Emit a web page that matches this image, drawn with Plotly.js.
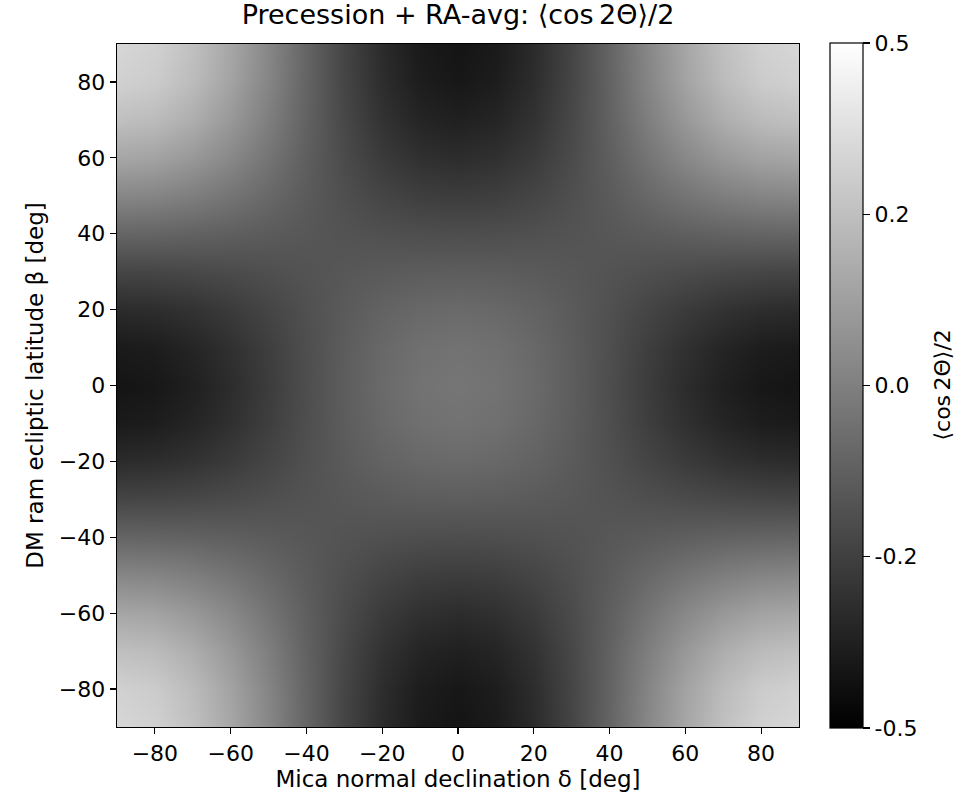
<!DOCTYPE html>
<html>
<head>
<meta charset="utf-8">
<script src="https://cdn.plot.ly/plotly-3.0.1.min.js"></script>
<style>html,body{margin:0;padding:0;background:#fff}#chart{width:964px;height:797px}</style>
</head>
<body>
<div id="chart"></div>
<script>
// Mica normal declination δ (deg)
const declination = [-90,-80,-70,-60,-50,-40,-30,-20,-10,0,10,20,30,40,50,60,70,80,90];
// DM ram ecliptic latitude β (deg)
const latitude = [-90,-80,-70,-60,-50,-40,-30,-20,-10,0,10,20,30,40,50,60,70,80,90];
// <cos 2Θ>/2, rows follow latitude, columns follow declination
const halfCos2Theta = [
  [0.342,0.319,0.253,0.151,0.027,-0.106,-0.230,-0.332,-0.398,-0.421,-0.398,-0.332,-0.230,-0.106,0.027,0.151,0.253,0.319,0.342],
  [0.319,0.297,0.234,0.137,0.018,-0.109,-0.227,-0.324,-0.387,-0.409,-0.387,-0.324,-0.227,-0.109,0.018,0.137,0.234,0.297,0.319],
  [0.253,0.234,0.179,0.095,-0.007,-0.116,-0.219,-0.303,-0.357,-0.376,-0.357,-0.303,-0.219,-0.116,-0.007,0.095,0.179,0.234,0.253],
  [0.151,0.137,0.095,0.032,-0.046,-0.129,-0.206,-0.270,-0.311,-0.326,-0.311,-0.270,-0.206,-0.129,-0.046,0.032,0.095,0.137,0.151],
  [0.027,0.018,-0.007,-0.046,-0.093,-0.144,-0.191,-0.230,-0.255,-0.263,-0.255,-0.230,-0.191,-0.144,-0.093,-0.046,-0.007,0.018,0.027],
  [-0.106,-0.109,-0.117,-0.129,-0.144,-0.159,-0.174,-0.186,-0.194,-0.197,-0.194,-0.186,-0.174,-0.159,-0.144,-0.129,-0.117,-0.109,-0.106],
  [-0.230,-0.227,-0.219,-0.206,-0.191,-0.174,-0.159,-0.146,-0.138,-0.135,-0.138,-0.146,-0.159,-0.174,-0.191,-0.206,-0.219,-0.227,-0.230],
  [-0.332,-0.324,-0.303,-0.270,-0.230,-0.187,-0.146,-0.113,-0.092,-0.084,-0.092,-0.113,-0.146,-0.187,-0.230,-0.270,-0.303,-0.324,-0.332],
  [-0.398,-0.388,-0.357,-0.311,-0.255,-0.194,-0.138,-0.092,-0.062,-0.051,-0.062,-0.092,-0.138,-0.194,-0.255,-0.311,-0.357,-0.388,-0.398],
  [-0.421,-0.409,-0.376,-0.326,-0.263,-0.197,-0.135,-0.084,-0.051,-0.040,-0.051,-0.084,-0.135,-0.197,-0.263,-0.326,-0.376,-0.409,-0.421],
  [-0.398,-0.388,-0.357,-0.311,-0.255,-0.194,-0.138,-0.092,-0.062,-0.051,-0.062,-0.092,-0.138,-0.194,-0.255,-0.311,-0.357,-0.388,-0.398],
  [-0.332,-0.324,-0.303,-0.270,-0.230,-0.187,-0.146,-0.113,-0.092,-0.084,-0.092,-0.113,-0.146,-0.187,-0.230,-0.270,-0.303,-0.324,-0.332],
  [-0.230,-0.227,-0.219,-0.206,-0.191,-0.174,-0.159,-0.146,-0.138,-0.135,-0.138,-0.146,-0.159,-0.174,-0.191,-0.206,-0.219,-0.227,-0.230],
  [-0.106,-0.109,-0.117,-0.129,-0.144,-0.159,-0.174,-0.186,-0.194,-0.197,-0.194,-0.186,-0.174,-0.159,-0.144,-0.129,-0.117,-0.109,-0.106],
  [0.027,0.018,-0.007,-0.046,-0.093,-0.144,-0.191,-0.230,-0.255,-0.263,-0.255,-0.230,-0.191,-0.144,-0.093,-0.046,-0.007,0.018,0.027],
  [0.151,0.137,0.095,0.032,-0.046,-0.129,-0.206,-0.270,-0.311,-0.326,-0.311,-0.270,-0.206,-0.129,-0.046,0.032,0.095,0.137,0.151],
  [0.253,0.234,0.179,0.095,-0.007,-0.116,-0.219,-0.303,-0.357,-0.376,-0.357,-0.303,-0.219,-0.116,-0.007,0.095,0.179,0.234,0.253],
  [0.319,0.297,0.234,0.137,0.018,-0.109,-0.227,-0.324,-0.387,-0.409,-0.387,-0.324,-0.227,-0.109,0.018,0.137,0.234,0.297,0.319],
  [0.342,0.319,0.253,0.151,0.027,-0.106,-0.230,-0.332,-0.398,-0.421,-0.398,-0.332,-0.230,-0.106,0.027,0.151,0.253,0.319,0.342]
];
const axisTicks = [-80,-60,-40,-20,0,20,40,60,80];
const axisTickText = ['\u221280','\u221260','\u221240','\u221220','0','20','40','60','80'];
const cbarTickVals = [-0.5,-0.25,0,0.25,0.5];
const cbarTickText = ['-0.5','-0.2','0.0','0.2','0.5'];
const cbarLabel = '\u27e8cos\u20092\u0398\u27e9/2';

const font = 'DejaVu Sans, sans-serif';

const trace = {
  type: 'heatmap',
  x: declination,
  y: latitude,
  z: halfCos2Theta,
  zmin: -0.5,
  zmax: 0.5,
  zsmooth: 'best',
  colorscale: [[0,'#000000'],[1,'#ffffff']],
  showscale: true,
  colorbar: {
    x: 1.045, xanchor: 'left', xref: 'paper',
    y: 0.5, yanchor: 'middle', len: 1.003, lenmode: 'fraction',
    thickness: 33, thicknessmode: 'pixels',
    outlinecolor: '#000', outlinewidth: 1.2,
    ticks: 'outside', ticklen: 7, tickwidth: 1.2, tickcolor: '#000',
    tickvals: cbarTickVals, ticktext: cbarTickText, tickprefix: '\u2009',
    tickfont: {family: font, size: 22, color: '#000'},
    xpad: 0, ypad: 0
  }
};

const layout = {
  width: 964, height: 797,
  margin: {l: 117, r: 165, t: 44, b: 70, pad: 0},
  paper_bgcolor: '#fff', plot_bgcolor: '#fff',
  title: {text: 'Precession + RA-avg: \u27e8cos\u20092\u0398\u27e9/2', font: {family: font, size: 27, color: '#000'}, xref: 'paper', x: 0.5, xanchor: 'center', yref: 'container', y: 0.993, yanchor: 'top'},
  xaxis: {
    range: [-90, 90], tickvals: axisTicks, ticktext: axisTickText,
    ticks: 'outside', ticklen: 6, tickwidth: 1.2, tickcolor: '#000',
    showline: true, linecolor: '#000', linewidth: 1.3, mirror: true,
    showgrid: false, zeroline: false,
    tickfont: {family: font, size: 22, color: '#000'},
    title: {text: 'Mica normal declination \u03b4 [deg]', font: {family: font, size: 23, color: '#000'}, standoff: 3}
  },
  yaxis: {
    range: [-90, 90], tickvals: axisTicks, ticktext: axisTickText,
    ticks: 'outside', ticklen: 6, tickwidth: 1.2, tickcolor: '#000',
    showline: true, linecolor: '#000', linewidth: 1.3, mirror: true,
    showgrid: false, zeroline: false,
    tickfont: {family: font, size: 22, color: '#000'},
    title: {text: 'DM ram ecliptic latitude \u03b2 [deg]', font: {family: font, size: 23, color: '#000'}, standoff: 8}
  },
  annotations: [{
    text: cbarLabel, xref: 'paper', yref: 'paper', x: 1.2097, y: 0.5,
    xanchor: 'center', yanchor: 'middle', textangle: -90, showarrow: false,
    font: {family: font, size: 22, color: '#000'}
  }]
};

Plotly.newPlot('chart', [trace], layout, {displayModeBar: false, staticPlot: true});
</script>
</body>
</html>
